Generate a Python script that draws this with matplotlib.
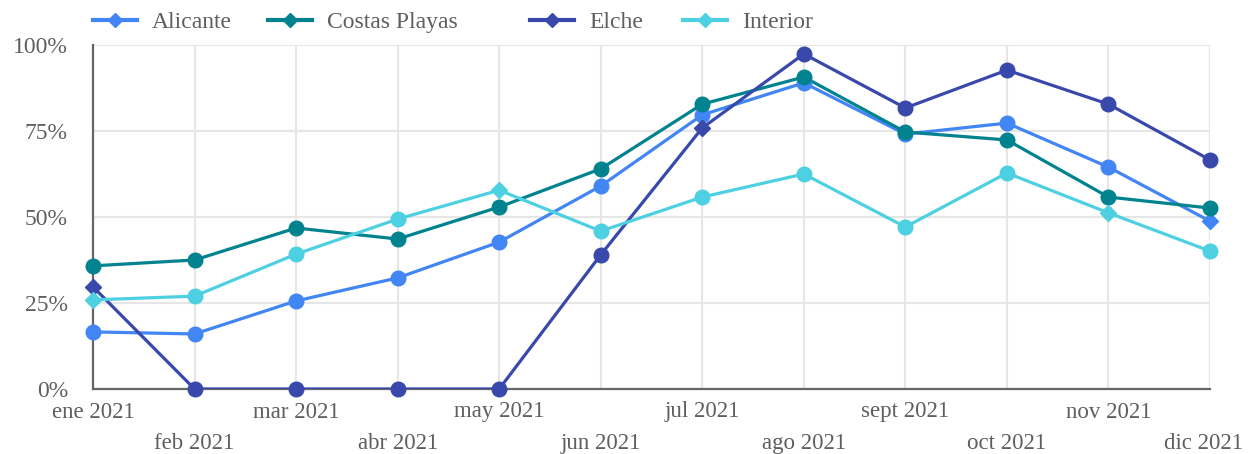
import matplotlib
matplotlib.use("Agg")
import matplotlib.pyplot as plt
from matplotlib.lines import Line2D
from matplotlib.transforms import ScaledTranslation

months = ["ene 2021", "feb 2021", "mar 2021", "abr 2021", "may 2021", "jun 2021",
          "jul 2021", "ago 2021", "sept 2021", "oct 2021", "nov 2021", "dic 2021"]

alicante = [16.6, 16.0, 25.6, 32.3, 42.7, 59.0, 79.7, 89.0, 74.1, 77.3, 64.5, 48.8]
costas = [35.8, 37.5, 46.8, 43.6, 52.9, 64.0, 82.8, 90.7, 74.7, 72.4, 55.8, 52.6]
elche = [29.7, 0.0, 0.0, 0.0, 0.0, 39.0, 75.9, 97.4, 81.7, 92.7, 82.8, 66.6]
interior = [25.9, 27.0, 39.2, 49.4, 57.8, 45.9, 55.8, 62.5, 47.1, 62.8, 51.2, 40.1]

series_names = ["Alicante", "Costas Playas", "Elche", "Interior"]
series_values = [alicante, costas, elche, interior]
colors = ["#4285F4", "#00838F", "#3949AB", "#4DD0E1"]
# points drawn as diamonds (index per series)
diamond_points = [[11], [], [0, 6], [0, 4, 10]]

plt.rcParams["font.family"] = ["Liberation Serif", "DejaVu Serif"]
text_color = "#5f5f5f"

W, H = 1248, 454
fig = plt.figure(figsize=(W / 100, H / 100), dpi=100)
ax = fig.add_axes([93 / W, 1 - 389 / H, (1210 - 93) / W, (389 - 45) / H])

x = list(range(len(months)))
for name, vals, col, dia in zip(series_names, series_values, colors, diamond_points):
    ax.plot(x, vals, color=col, lw=2.3, zorder=3, solid_capstyle="round")
    circ = [i for i in x if i not in dia]
    ax.plot(circ, [vals[i] for i in circ], ls="none", marker="o", ms=10.5,
            color=col, zorder=4, clip_on=False)
    if dia:
        ax.plot(dia, [vals[i] for i in dia], ls="none", marker="D", ms=8,
                color=col, zorder=4, clip_on=False)

ax.set_xlim(0, len(months) - 1)
ax.set_ylim(0, 100)
ax.set_yticks([0, 25, 50, 75, 100])
ax.set_yticklabels(["0%", "25%", "50%", "75%", "100%"])
ax.set_xticks(x)
ax.set_xticklabels(months)

ax.grid(True, color="#e6e6e6", lw=1.5, zorder=0)
ax.set_axisbelow(True)
for s in ["top", "right"]:
    ax.spines[s].set_visible(False)
for s in ["left", "bottom"]:
    ax.spines[s].set_color("#666666")
    ax.spines[s].set_linewidth(1.6)
    ax.spines[s].set_zorder(2)

ax.tick_params(axis="both", length=0, labelsize=17, labelcolor=text_color)
ax.tick_params(axis="x", labelsize=16.5)
ax.tick_params(axis="y", pad=18)
for i, t in enumerate(ax.xaxis.get_major_ticks()):
    t.set_pad(9 if i % 2 == 0 else 32)
# keep the last label inside the figure, as in the reference
last = ax.xaxis.get_major_ticks()[-1].label1
last.set_transform(last.get_transform() + ScaledTranslation(-0.07, 0, fig.dpi_scale_trans))

# legend entries placed individually
legend_x = [93, 268, 530, 683]
for name, col, lx in zip(series_names, colors, legend_x):
    h = Line2D([], [], color=col, lw=3, marker="D", ms=7)
    leg = fig.legend(handles=[h], labels=[name], loc="center left",
                     bbox_to_anchor=(lx / W, 1 - 22 / H), frameon=False,
                     fontsize=17, handlelength=1.85, handletextpad=0.65,
                     borderpad=0, borderaxespad=0)
    for t in leg.get_texts():
        t.set_color(text_color)

fig.savefig("out.png", dpi=100)
